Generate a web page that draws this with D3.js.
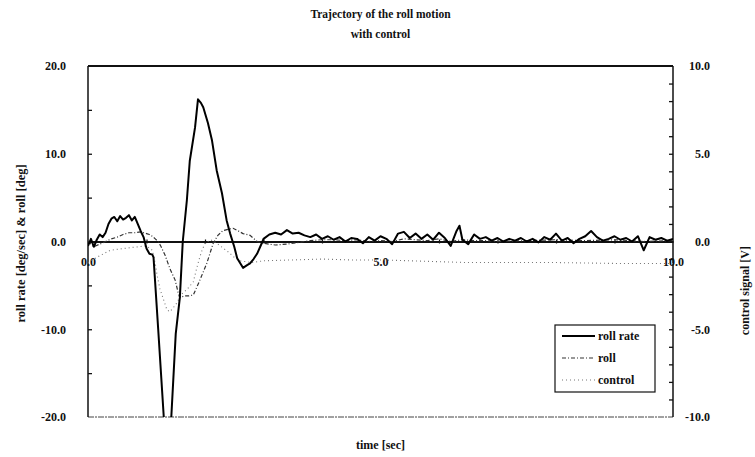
<!DOCTYPE html>
<html>
<head>
<meta charset="utf-8">
<script src="https://cdn.jsdelivr.net/npm/d3@7"></script>
<style>
  body { margin: 0; background: #fff; }
  svg text { font-family: "Liberation Serif", "DejaVu Serif", serif; fill: #111; }
</style>
</head>
<body>
<script>
// roll rate [deg/sec]
var rateTime = [0, 0.05, 0.1, 0.15, 0.2, 0.25, 0.3, 0.35, 0.4, 0.45, 0.5, 0.55, 0.6, 0.65, 0.7, 0.75, 0.8, 0.85, 0.9, 0.95,
    1.0, 1.05, 1.1, 1.12, 1.2, 1.3, 1.36, 1.42, 1.5, 1.57, 1.62, 1.69, 1.74, 1.83, 1.88, 1.93, 1.97, 2.05, 2.12, 2.2,
    2.29, 2.37, 2.43, 2.5, 2.55, 2.65, 2.72, 2.77, 2.83, 2.89, 2.97,
    3.0, 3.1, 3.2, 3.3, 3.4, 3.5, 3.6, 3.7, 3.8, 3.9, 4.0, 4.1, 4.2, 4.3, 4.4, 4.5, 4.6, 4.7, 4.8, 4.9,
    5.0, 5.1, 5.2, 5.3, 5.4, 5.5, 5.6, 5.7, 5.8, 5.9, 6.0, 6.1, 6.2, 6.3, 6.35, 6.4, 6.5, 6.6, 6.7, 6.8, 6.9,
    7.0, 7.1, 7.2, 7.3, 7.4, 7.5, 7.6, 7.7, 7.8, 7.9, 8.0, 8.1, 8.2, 8.3, 8.4, 8.5, 8.6, 8.7, 8.8, 8.9,
    9.0, 9.1, 9.2, 9.3, 9.4, 9.5, 9.6, 9.7, 9.8, 9.9, 10.0];
var rateValues = [-0.5, 0.3, -0.6, 0.2, 0.8, 0.5, 1.0, 2.0, 2.6, 2.8, 2.3, 2.9, 2.5, 2.7, 3.0, 2.4, 2.8, 2.0, 1.2, 0.5,
    -0.8, -1.4, -1.5, -1.8, -10.0, -20.5, -23.0, -20.5, -10.5, -6.4, 0.0, 4.7, 9.2, 13.0, 16.2, 15.8, 15.3, 13.5, 11.5, 8.1,
    5.5, 2.4, 0.9, -0.6, -1.9, -3.0, -2.7, -2.5, -2.0, -1.4, -0.2,
    0.3, 0.8, 1.0, 0.8, 1.3, 0.9, 1.0, 0.7, 0.5, 0.8, 0.3, 0.6, 0.2, 0.5, 0.0, 0.4, 0.3, -0.2, 0.5, 0.1,
    0.6, 0.3, -0.3, 0.9, 1.1, 0.4, 0.9, 0.3, 0.8, 0.2, 1.0, 0.4, -0.5, 1.2, 1.8, 0.2, -0.3, 0.8, 0.3, 0.5, 0.1,
    0.4, 0.0, 0.3, 0.1, 0.4, 0.0, 0.3, -0.1, 0.5, 0.2, 0.9, 0.1, 0.4, -0.2, 0.3, 0.6, 1.2, 0.5, 0.1, 0.3,
    0.6, 0.2, 0.4, 0.0, 0.6, -1.0, 0.5, 0.2, 0.4, 0.1, 0.3];

// roll [deg]
var rollTime = [0, 0.1, 0.2, 0.3, 0.4, 0.5, 0.6, 0.7, 0.8, 0.9, 1.0, 1.05, 1.1, 1.15, 1.2, 1.25, 1.32, 1.4, 1.49, 1.54,
    1.57, 1.65, 1.72, 1.8, 1.9, 2.03, 2.14, 2.22, 2.31, 2.4, 2.48, 2.57, 2.65, 2.77, 2.89, 3.0,
    3.2, 3.4, 3.6, 3.8, 4.0, 4.2, 4.4, 4.6, 4.8, 5.0, 5.2, 5.4, 5.6, 5.8, 6.0, 6.2, 6.4, 6.6, 6.8,
    7.0, 7.5, 8.0, 8.5, 9.0, 9.5, 10.0];
var rollValues = [0.0, -0.6, -0.3, 0.0, 0.3, 0.5, 0.8, 1.0, 1.0, 1.1, 0.9, 0.8, 0.6, 0.3, 0.0, -0.6, -1.6, -3.1, -4.4, -5.8,
    -6.4, -6.2, -6.2, -6.1, -4.6, -2.5, -0.2, 0.7, 1.25, 1.4, 1.5, 1.2, 0.9, 0.7, 0.0, -0.2,
    -0.4, -0.3, -0.1, 0.1, 0.2, 0.2, 0.1, 0.2, 0.0, 0.1, 0.0, 0.3, 0.2, 0.1, 0.3, 0.0, 0.2, 0.1, 0.1,
    0.0, 0.1, 0.2, 0.1, 0.2, 0.0, 0.1];

// control signal [V]
var controlTime = [0, 0.15, 0.38, 0.72, 1.0, 1.1, 1.15, 1.18, 1.23, 1.28, 1.35, 1.4, 1.5, 1.6, 1.7, 1.8, 1.86, 1.91,
    1.95, 2.0, 2.1, 2.2, 2.3, 2.4, 2.5, 2.6, 2.8, 3.0, 3.5, 4.0, 4.5, 5.0, 5.5, 6.0, 6.5, 7.0, 8.0, 9.0, 10.0];
var controlValues = [-1.2, -0.9, -0.5, -0.35, -0.25, -0.5, -1.25, -1.9, -2.7, -3.2, -3.9, -4.0, -3.6, -3.0, -2.7, -2.3, -1.5, -0.9,
    -0.5, -0.1, 0.1, -0.1, -0.35, -0.6, -0.9, -1.1, -1.2, -1.1, -1.05, -1.0, -1.05, -1.05, -1.1, -1.15, -1.2, -1.2, -1.2, -1.25, -1.25];

var leftLabels = [-20, -10, 0, 10, 20];
var leftTicks = [-15, -10, -5, 5, 10, 15];
var rightLabels = [-10, -5, 0, 5, 10];
var rightTicks = [-9, -8, -7, -6, -5, -4, -3, -2, -1, 1, 2, 3, 4, 5, 6, 7, 8, 9];
var xLabels = [0, 5, 10];
var xTicks = [1, 2, 3, 4, 6, 7, 8, 9];
var legendNames = ["roll rate", "roll", "control"];

var margin = {top: 66, right: 82, bottom: 40, left: 88},
    width = 755 - margin.left - margin.right,
    height = 457 - margin.top - margin.bottom;

var svg = d3.select("body").append("svg")
    .attr("width", width + margin.left + margin.right)
    .attr("height", height + margin.top + margin.bottom)
    .append("g")
    .attr("transform", "translate(" + margin.left + "," + margin.top + ")");

var xScale = d3.scaleLinear().domain([0, 10]).range([0, width]);
var yLeft = d3.scaleLinear().domain([-20, 20]).range([height, 0]);
var yRight = d3.scaleLinear().domain([-10, 10]).range([height, 0]);
var fmt = function(d) { return d.toFixed(1); };

function styleText(sel, size) {
    sel.selectAll("text")
        .attr("font-family", null)
        .style("font-size", size + "px")
        .style("font-weight", "bold");
}

svg.append("clipPath").attr("id", "clip")
  .append("rect").attr("x", 0).attr("y", 0).attr("width", width).attr("height", height);

// frame: heavy top, light bottom
svg.append("line").attr("x1", 0).attr("x2", width).attr("y1", 0).attr("y2", 0)
    .attr("stroke", "#111").attr("stroke-width", 2);
svg.append("line").attr("x1", 0).attr("x2", width).attr("y1", height).attr("y2", height)
    .attr("stroke", "#444").attr("stroke-width", 1).attr("stroke-dasharray", "6,1,2,1");
svg.append("line").attr("x1", 0).attr("x2", 0).attr("y1", 0).attr("y2", height)
    .attr("stroke", "#111").attr("stroke-width", 1.5);
svg.append("line").attr("x1", width).attr("x2", width).attr("y1", 0).attr("y2", height)
    .attr("stroke", "#111").attr("stroke-width", 1.5);

// left axis: inner ticks + labels
var gl = svg.append("g").call(d3.axisRight(yLeft).tickValues(leftTicks).tickSize(4).tickFormat(""));
gl.select(".domain").remove();
gl.selectAll("line").attr("stroke", "#111").attr("stroke-width", 1.3);
var gll = svg.append("g").call(d3.axisLeft(yLeft).tickValues(leftLabels).tickSize(0).tickPadding(22).tickFormat(fmt));
gll.select(".domain").remove();
styleText(gll, 12);

// right axis
var gr = svg.append("g").attr("transform", "translate(" + width + ",0)")
    .call(d3.axisLeft(yRight).tickValues(rightTicks).tickSize(4).tickFormat(""));
gr.select(".domain").remove();
gr.selectAll("line").attr("stroke", "#111").attr("stroke-width", 1.3);
var grl = svg.append("g").attr("transform", "translate(" + width + ",0)")
    .call(d3.axisRight(yRight).tickValues(rightLabels).tickSize(0).tickFormat(fmt));
grl.select(".domain").remove();
grl.selectAll("text").attr("x", 37).style("text-anchor", "end");
styleText(grl, 12);

// x axis sits on y = 0
var gx = svg.append("g").attr("transform", "translate(0," + yLeft(0) + ")")
    .call(d3.axisBottom(xScale).tickValues(xLabels).tickSize(0).tickPadding(16).tickFormat(fmt));
gx.select(".domain").attr("stroke", "#111").attr("stroke-width", 2);
styleText(gx, 12);
var gxt = svg.append("g").attr("transform", "translate(0," + (yLeft(0) - 2) + ")")
    .call(d3.axisBottom(xScale).tickValues(xTicks).tickSize(4).tickFormat(""));
gxt.select(".domain").remove();
gxt.selectAll("line").attr("stroke", "#111").attr("stroke-width", 1.2);

// series
var lineLeft = d3.line().x(function(d) { return xScale(d[0]); }).y(function(d) { return yLeft(d[1]); });
var lineRight = d3.line().x(function(d) { return xScale(d[0]); }).y(function(d) { return yRight(d[1]); });
var plot = svg.append("g").attr("clip-path", "url(#clip)");

plot.append("path")
    .datum(controlTime.map(function(t, i) { return [t, controlValues[i]]; }))
    .attr("d", lineRight).attr("fill", "none")
    .attr("stroke", "#777").attr("stroke-width", 1.1).attr("stroke-dasharray", "1,3");
plot.append("path")
    .datum(rollTime.map(function(t, i) { return [t, rollValues[i]]; }))
    .attr("d", lineLeft).attr("fill", "none")
    .attr("stroke", "#333").attr("stroke-width", 1.2).attr("stroke-dasharray", "4,2,1,2");
plot.append("path")
    .datum(rateTime.map(function(t, i) { return [t, rateValues[i]]; }))
    .attr("d", lineLeft).attr("fill", "none")
    .attr("stroke", "#000").attr("stroke-width", 2).attr("stroke-linejoin", "round");

// legend
var lg = svg.append("g").attr("transform", "translate(467,259)");
lg.append("rect").attr("width", 100).attr("height", 67)
    .attr("fill", "#fff").attr("stroke", "#111").attr("stroke-width", 1.2);
var legendStyle = [
    {stroke: "#000", w: 2, dash: null},
    {stroke: "#333", w: 1.2, dash: "4,2,1,2"},
    {stroke: "#777", w: 1.1, dash: "1,3"}
];
legendNames.forEach(function(name, i) {
    var y = 11 + i * 22;
    lg.append("line").attr("x1", 7).attr("x2", 40).attr("y1", y).attr("y2", y)
        .attr("stroke", legendStyle[i].stroke).attr("stroke-width", legendStyle[i].w)
        .attr("stroke-dasharray", legendStyle[i].dash);
    lg.append("text").attr("x", 43).attr("y", y).attr("dy", "0.35em")
        .style("font-size", "12px").style("font-weight", "bold").text(name);
});

// titles
svg.append("text").attr("x", width / 2).attr("y", -48).attr("text-anchor", "middle")
    .style("font-size", "11.5px").style("font-weight", "bold").text("Trajectory of the roll motion");
svg.append("text").attr("x", width / 2).attr("y", -28).attr("text-anchor", "middle")
    .style("font-size", "11.5px").style("font-weight", "bold").text("with control");
svg.append("text").attr("x", width / 2).attr("y", height + 32).attr("text-anchor", "middle")
    .style("font-size", "12px").style("font-weight", "bold").text("time [sec]");
svg.append("text")
    .attr("transform", "translate(" + (-63) + "," + (height / 2 + 2) + ") rotate(-90)")
    .attr("text-anchor", "middle")
    .style("font-size", "12.5px").style("font-weight", "bold").text("roll rate [deg/sec] & roll [deg]");
svg.append("text")
    .attr("transform", "translate(" + (width + 76) + "," + (yRight(-2.8)) + ") rotate(-90)")
    .attr("text-anchor", "middle")
    .style("font-size", "12px").style("font-weight", "bold").text("control signal [V]");
</script>
</body>
</html>
